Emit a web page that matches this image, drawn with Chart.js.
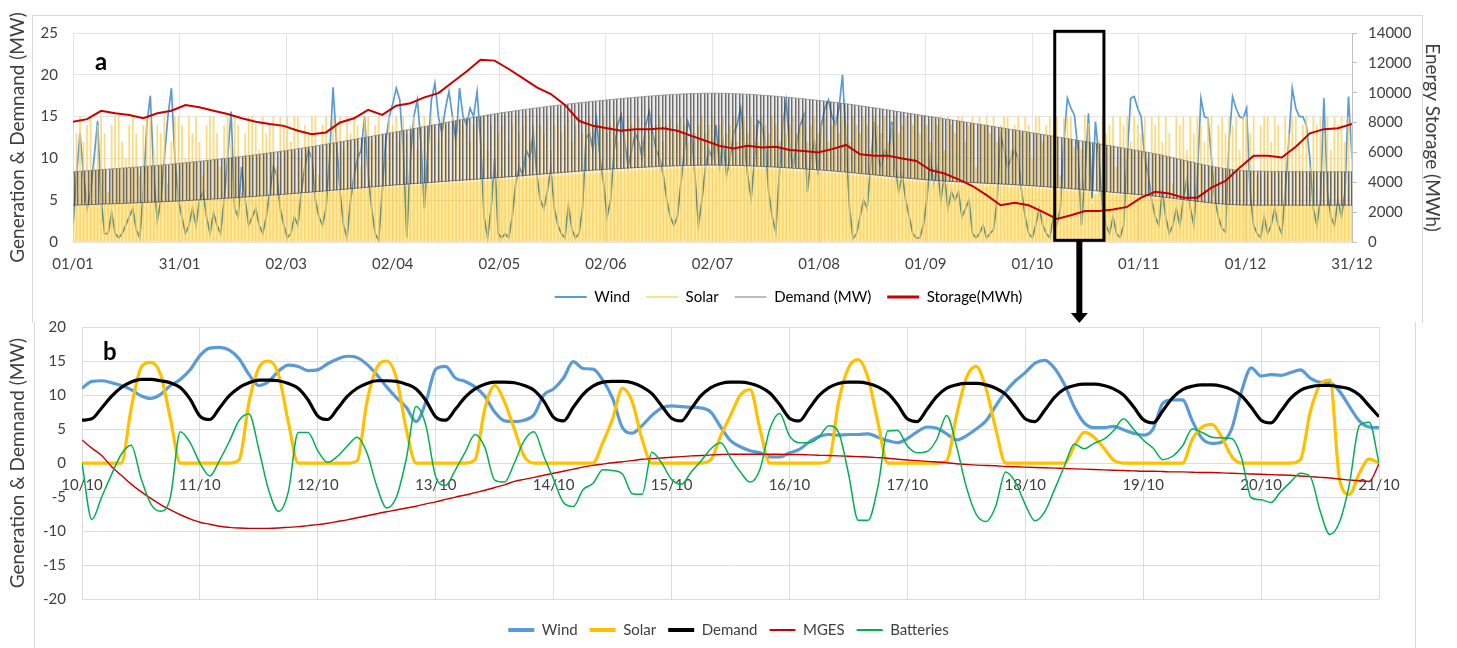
<!DOCTYPE html>
<html>
<head>
<meta charset="utf-8">
<script src="https://cdn.jsdelivr.net/npm/chart.js@4.4.1/dist/chart.umd.min.js"></script>
<style>
  html, body { margin: 0; padding: 0; background: #fff; overflow: hidden; }
  body { position: relative; width: 1457px; height: 648px; }
  .frame { position: absolute; box-sizing: border-box; border: 1px solid #d9d9d9; }
  #f1 { left: 32px; top: 15px; width: 1391px; height: 308px; border-bottom: none; }
  #f2 { left: 34px; top: 322px; width: 1382px; height: 340px; border-top: none; border-bottom: none; }
  canvas { position: absolute; left: 0; }
  #c1 { top: 0; width: 1577px; height: 330px; }
  #c2 { top: 318px; width: 1457px; height: 330px; }
</style>
</head>
<body>
<div class="frame" id="f1"></div>
<div class="frame" id="f2"></div>
<canvas id="c1" width="1577" height="330"></canvas>
<canvas id="c2" width="1457" height="330"></canvas>
<script>
// ---------- panel a : one year, daily values ----------
const yearTicks = ["01/01", "31/01", "02/03", "02/04", "02/05", "02/06", "02/07",
                   "01/08", "01/09", "01/10", "01/11", "01/12", "31/12"];

// wind, MW, one value per day (day 0 = 01/01)
const windYear = [
  2, 8, 13, 8, 4, 6, 10, 14.5, 5, 1,
  1, 3.5, 1, 0.5, 1, 2, 3, 4, 1.5, 0.5,
  6, 14, 17.5, 8, 2.5, 5, 10, 15, 18.4, 10,
  5, 3, 1, 2, 4, 2, 5, 6, 3, 1,
  3.5, 2, 1, 5, 10, 15.6, 4, 3, 9, 5,
  2, 3, 4, 2, 1, 3, 6, 9, 8, 4,
  2, 0.5, 1, 3, 2, 6, 9, 11, 10, 5,
  3, 2, 4, 10, 18.5, 12, 6, 2, 0.5, 5,
  8, 10, 11, 15, 8, 4, 1, 0.2, 6, 12,
  15, 16.5, 18.4, 17, 11, 0.5, 10, 15, 17, 12,
  4, 11, 17, 19, 15, 13, 16, 18, 15, 12,
  18.4, 15, 14, 16, 15, 18, 12, 3, 0.5, 4,
  10, 1, 0.5, 1, 0.5, 3, 7, 9, 8, 11,
  10, 13, 8, 5, 4, 6, 8.8, 4, 2, 1,
  0.5, 4.4, 1.5, 0.5, 1, 4, 12.4, 13, 11, 14.6,
  10, 7, 3, 5, 11, 14, 15.2, 12, 9, 11,
  13, 12, 10, 14, 15.6, 13, 11, 10, 8, 5,
  3, 2, 3, 7, 11, 14.4, 13, 8, 2, 5,
  9, 11, 10, 14, 9, 12, 8, 10, 13, 14,
  16, 12, 8, 5.2, 10, 14.5, 14, 12, 6, 3,
  1.2, 8, 14, 16.8, 11, 9, 12, 14, 15.2, 6,
  10, 12, 8, 14, 16, 17, 15, 14, 16, 20,
  12, 4, 0.4, 1, 3, 5, 4, 9, 14.4, 10,
  9, 11, 10, 14.4, 9, 6, 8, 5, 3, 1,
  0.5, 0.5, 2, 5, 10, 7, 9, 5, 8, 4,
  6, 5, 6, 3, 4, 5, 1, 0.5, 1, 2,
  0.5, 1, 1.5, 5, 12.8, 11, 9, 10, 11, 10,
  6, 3, 1, 0.5, 2, 4, 2, 1, 0.5, 3,
  2, 4, 12, 17.2, 16, 15.2, 11, 2, 8, 15.4,
  5.2, 14.4, 10, 4, 2, 1, 3, 1, 0.5, 2,
  10, 17.2, 17.4, 16, 15, 10, 8, 5, 3, 2,
  6, 3, 1, 2, 4, 2, 5, 7.6, 4, 2,
  8, 17.2, 15, 14.8, 10, 5, 3, 1.6, 1.2, 12,
  17.4, 16, 15, 14.8, 16, 6, 2, 1, 0.5, 3,
  1, 2, 4, 2, 1, 6, 12, 18.4, 16, 15,
  15, 14, 10, 4, 2, 5, 17.2, 6, 3, 2,
  5, 3, 6, 17.4, 10
];

// solar, MW, daily peak
const solarYear = [
  14.5, 13, 15, 12, 14, 15, 9, 14, 15, 13, 6, 14, 15, 15, 12, 10, 14, 15, 13, 8, 14, 15, 15, 11, 14, 13, 15, 7, 12, 15,
  15, 14, 10, 15, 13, 15, 12, 8, 14, 15, 15, 13, 9, 14, 15, 12, 15, 14, 6, 13, 15, 15, 14, 11, 15, 13, 14, 15, 9, 15,
  14, 15, 12, 15, 15, 10, 14, 13, 15, 15, 8, 14, 15, 12, 15, 14, 15, 11, 15, 13, 15, 14, 9, 15, 15, 12, 14, 15, 13, 10,
  15, 14, 15, 12, 15, 13, 14, 15, 11, 14, 15, 13, 15, 14, 12, 15, 14, 10, 15, 13, 15, 14, 15, 12, 14, 15, 13, 15, 11, 14,
  15, 13, 14, 15, 12, 14, 15, 13, 14, 15, 12, 14, 15, 14, 13, 15, 11, 14, 15, 13, 14, 15, 12, 14, 15, 13, 14, 15, 14, 12,
  14, 15, 13, 14, 15, 12, 14, 13, 15, 14, 13, 15, 12, 14, 15, 13, 14, 15, 12, 14, 15, 13, 14, 15, 14, 12, 15, 13, 14, 15,
  13, 14, 15, 12, 14, 15, 13, 14, 15, 12, 14, 15, 13, 15, 14, 12, 15, 14, 13, 15, 14, 12, 15, 13, 14, 15, 13, 14, 15, 12,
  14, 15, 13, 14, 15, 12, 14, 15, 13, 15, 14, 12, 15, 14, 13, 15, 14, 11, 15, 14, 13, 15, 12, 14, 15, 13, 14, 15, 10, 14,
  15, 13, 15, 14, 12, 15, 14, 15, 11, 15, 14, 13, 15, 15, 12, 14, 15, 9, 15, 14, 15, 13, 15, 12, 14, 15, 15, 11, 14, 15,
  13, 15, 14, 10, 15, 15, 12, 14, 15, 13, 15, 8, 14.8, 15, 15, 11.4, 11.1, 11.1, 15.2, 14.2, 4.6, 5.7, 12.2, 15, 13, 14, 15, 9, 15, 14,
  15, 12, 15, 14, 13, 15, 10, 15, 14, 15, 12, 15, 13, 7, 15, 14, 15, 11, 15, 13, 15, 14, 12, 15, 15, 9, 14, 15, 13, 15,
  14, 15, 11, 15, 15, 13, 15, 8, 14, 15, 15, 12, 15, 14, 10, 15, 13, 15, 15, 12, 14, 15, 9, 15, 14, 15, 13, 15, 11, 15, 14, 15, 12, 15, 14
];

// days at which the seasonal envelopes were read
const envDays   = [0, 30, 60, 91, 121, 152, 182, 213, 244, 274, 305, 335, 364];
const demandMax = [8.4, 9.4, 10.9, 13.1, 15.4, 17.0, 17.8, 16.9, 15.0, 13.0, 10.8, 8.5, 8.4];
const demandMin = [4.4, 4.9, 5.7, 6.8, 7.7, 8.7, 9.2, 8.6, 7.4, 6.7, 5.6, 4.4, 4.4];
const solarBase = [4.3, 4.9, 5.6, 6.6, 7.4, 8.3, 8.9, 8.3, 7.1, 6.4, 5.4, 4.3, 4.3];

// storage, MWh, every 4 days
const storageStep = 4;
const storageYear = [
  8060, 8230, 8790, 8620, 8510, 8290, 8620, 8790, 9180, 9020,
  8790, 8570, 8290, 8060, 7900, 7780, 7450, 7220, 7340, 8010,
  8290, 8850, 8510, 9130, 9300, 9690, 9970, 10700, 11420, 12210,
  12150, 11590, 10980, 10360, 9910, 9180, 8120, 7780, 7620, 7450,
  7560, 7560, 7620, 7450, 7110, 6780, 6440, 6270, 6440, 6330,
  6380, 6160, 6100, 5990, 6220, 6500, 5880, 5770, 5770, 5600,
  5430, 4820, 4590, 4200, 3750, 3140, 2460, 2630, 2460, 2020,
  1540, 1790, 2070, 2070, 2180, 2350, 2970, 3360, 3250, 2970,
  2970, 3640, 4090, 4980, 5770, 5770, 5660, 6380, 7280, 7560,
  7620, 7900
];
const zoomRange = [279.4, 293.4];

// ---------- panel b : 10/10 - 21/10, every 2 hours ----------
const dayTicks = ["10/10", "11/10", "12/10", "13/10", "14/10", "15/10", "16/10",
                  "17/10", "18/10", "19/10", "20/10", "21/10"];
const hourStep = 2;
const windOct = [
  11.0, 12.0, 12.1, 11.8, 11.4, 10.8, 9.9, 9.5, 10.1, 11.4, 12.3, 13.7,
  15.8, 16.9, 17.0, 16.6, 15.3, 13.0, 11.4, 12.0, 13.5, 14.4, 14.2, 13.6,
  13.7, 14.6, 15.3, 15.7, 15.5, 14.5, 13.0, 11.2, 9.6, 8.2, 6.1, 9.0,
  13.8, 14.2, 12.5, 12.0, 11.2, 9.8, 7.5, 6.2, 6.1, 6.3, 7.1, 10.0,
  10.9, 12.5, 14.9, 13.9, 13.8, 12.2, 9.5, 5.2, 4.4, 5.5, 7.0, 8.1,
  8.4, 8.3, 8.2, 8.1, 7.5, 5.3, 3.3, 2.4, 1.8, 1.5, 0.9, 0.9,
  1.5, 2.0, 3.1, 3.9, 4.2, 4.1, 4.2, 4.2, 4.3, 3.8, 3.3, 3.0,
  3.6, 4.6, 5.3, 5.1, 4.3, 3.4, 4.0, 5.0, 6.2, 8.4, 10.5, 12.1,
  13.3, 14.7, 15.1, 13.9, 11.5, 8.2, 5.9, 5.2, 5.2, 5.4, 4.9, 4.4,
  4.1, 5.0, 8.8, 9.3, 9.3, 6.2, 3.6, 2.9, 3.1, 5.0, 10.5, 14.0,
  12.8, 13.0, 12.9, 13.3, 13.7, 12.5, 11.9, 11.8, 10.5, 8.3, 6.2, 5.3,
  5.2
];
const solarOct = [
  0, 0, 0, 0, 0, 8, 14, 14.8, 13, 6.5, 0, 0,
  0, 0, 0, 0, 0.5, 9, 14, 15, 13, 6, 0, 0,
  0, 0, 0, 0, 0.3, 9, 14, 15, 12.5, 5, 0, 0,
  0, 0, 0, 0, 0.5, 8, 11.4, 9, 5, 1, 0, 0,
  0, 0, 0, 0, 0, 3, 6.5, 11, 9, 3.5, 0, 0,
  0, 0, 0, 0, 0.5, 4, 7, 10, 10.8, 5, 0, 0,
  0, 0, 0, 0, 0.3, 9, 14, 15.2, 12.5, 6, 0, 0,
  0, 0, 0, 0, 0.3, 7, 12.5, 14.2, 11, 5, 0, 0,
  0, 0, 0, 0, 0, 2.5, 4.5, 3.8, 2.2, 0.4, 0, 0,
  0, 0, 0, 0, 0, 3.5, 5.3, 5.7, 3.8, 1, 0, 0,
  0, 0, 0, 0, 0.5, 7.5, 11.5, 12.2, -2.5, -4.6, -1.5, 0.6,
  0
];
const demandOct = [
  6.3, 6.5, 8.1, 9.8, 11.1, 11.9, 12.3, 12.3, 12.1, 11.8, 11.1, 9.4,
  6.9, 6.4, 8.1, 9.9, 11.1, 11.8, 12.2, 12.2, 12.1, 11.7, 11.0, 9.3,
  6.9, 6.4, 8.0, 9.8, 11.0, 11.7, 12.1, 12.1, 12.0, 11.6, 10.9, 9.2,
  6.8, 6.3, 7.9, 9.7, 10.9, 11.6, 11.9, 11.9, 11.8, 11.4, 10.7, 9.1,
  6.7, 6.2, 8.2, 10.1, 11.3, 11.9, 12.0, 12.0, 11.8, 11.2, 10.2, 8.4,
  6.6, 6.2, 8.0, 9.9, 11.1, 11.7, 11.9, 11.9, 11.7, 11.2, 10.3, 8.6,
  6.6, 6.2, 8.0, 9.9, 11.1, 11.7, 11.9, 11.9, 11.7, 11.2, 10.3, 8.6,
  6.5, 6.1, 7.9, 9.8, 11.0, 11.5, 11.7, 11.7, 11.5, 11.0, 10.1, 8.4,
  6.5, 6.1, 7.8, 9.7, 10.9, 11.4, 11.6, 11.6, 11.4, 10.9, 10.0, 8.3,
  6.4, 5.9, 7.7, 9.6, 10.8, 11.3, 11.5, 11.5, 11.3, 10.8, 9.9, 8.2,
  6.3, 5.9, 7.6, 9.5, 10.7, 11.2, 11.4, 11.4, 11.2, 10.9, 10.0, 8.4,
  6.8
];
const mgesOct = [
  3.4, 2.2, 1.1, -0.5, -1.8, -3.1, -4.2, -5.2, -6.1, -6.9, -7.6, -8.2,
  -8.7, -9.0, -9.3, -9.45, -9.55, -9.6, -9.6, -9.6, -9.55, -9.45, -9.35, -9.2,
  -9.05, -8.85, -8.6, -8.35, -8.05, -7.75, -7.45, -7.15, -6.9, -6.6, -6.35, -6.0,
  -5.7, -5.35, -5.0, -4.7, -4.35, -4.0, -3.6, -3.2, -2.7, -2.4, -2.1, -1.8,
  -1.5, -1.2, -0.9, -0.6, -0.35, -0.15, 0.05, 0.2, 0.35, 0.55, 0.65, 0.75,
  0.85, 0.95, 1.05, 1.1, 1.2, 1.25, 1.3, 1.3, 1.3, 1.3, 1.3, 1.3,
  1.25, 1.25, 1.2, 1.15, 1.1, 1.05, 1.0, 0.95, 0.9, 0.8, 0.7, 0.55,
  0.45, 0.35, 0.25, 0.15, 0.05, -0.1, -0.2, -0.3, -0.35, -0.4, -0.5, -0.55,
  -0.6, -0.65, -0.7, -0.75, -0.8, -0.85, -0.9, -0.95, -1.0, -1.05, -1.1, -1.15,
  -1.2, -1.2, -1.25, -1.3, -1.3, -1.35, -1.4, -1.4, -1.45, -1.5, -1.55, -1.6,
  -1.65, -1.7, -1.75, -1.8, -1.9, -2.0, -2.1, -2.2, -2.35, -2.5, -2.6, -2.7,
  -0.1
];
const batteriesOct = [
  0, -8.3, -5.0, -1.7, 1.3, 2.6, -2.2, -6.0, -7.1, -5.0, 4.6, 3.0,
  0, -1.9, 0.4, 3.2, 6.3, 7.2, 2.0, -4.0, -7.1, -4.2, 4.5, 4.5,
  1.8, 0.1, 1.0, 2.5, 3.8, 1.5, -3.4, -6.6, -5.0, 0.6, 8.3, 5.5,
  -2.0, -3.3, -1.0, 1.6, 4.2, 2.3, -2.5, -2.8, 0, 3.3, 4.6, 1.0,
  -2.4, -5.8, -6.4, -3.9, -3.0, -1.0, -1.1, -1.6, -4.5, -4.6, 1.6, 0.0,
  -2.4, -3.1, -1.3, 0.3, 2.1, 3.0, 0.8, -1.3, -2.8, -0.9, 5.0, 7.3,
  4.0, 3.0, 3.0, 3.8, 5.5, 4.5, -1.5, -8.4, -8.4, -3.5, 4.7, 4.8,
  2.5, 1.5, 1.7, 3.5, 7.0, 2.5, -3.5, -7.5, -8.6, -6.3, -1.3, -2.8,
  -6.1, -8.5, -7.1, -3.8, -0.4, 2.8, 2.1, 2.9, 3.5, 4.8, 6.5, 5.0,
  3.4, 2.2, 0.5, 1.0, 2.5, 5.0, 4.5, 3.8, 3.7, 3.6, 0.8, -5.1,
  -5.4, -5.8, -4.2, -2.8, -1.5, -2.0, -7.0, -10.5, -8.6, -3.0, 5.5, 6.0,
  0
];

// ---------- shared settings ----------
Chart.defaults.font.family = 'Lato, "Open Sans", sans-serif';
Chart.defaults.font.size = 15;
Chart.defaults.color = '#404040';
Chart.defaults.animation = false;
Chart.defaults.events = [];
Chart.defaults.elements.point.radius = 0;
Chart.defaults.plugins.tooltip.enabled = false;

function stripes() {
  // hatch that stands for the daily up/down of the demand curve
  const c = document.createElement('canvas');
  c.width = 7; c.height = 4;
  const g = c.getContext('2d');
  const alpha = [0.75, 0.4, 0.1, 0.1, 0.75, 0.4, 0.1];
  alpha.forEach((a, i) => {
    g.fillStyle = 'rgba(60,60,60,' + a + ')';
    g.fillRect(i, 0, 1, 4);
  });
  return g.createPattern(c, 'repeat');
}

const pts = (arr, step) => arr.map((v, i) => ({ x: i * step, y: v }));
const atDays = (days, arr) => days.map((d, i) => ({ x: d, y: arr[i] }));

function legendItems(chart, keep) {
  return chart.data.datasets.map((d, i) => ({
    text: d.label, strokeStyle: d.legendColor || d.borderColor, fillStyle: d.legendColor || d.borderColor,
    lineWidth: d.legendWidth, pointStyle: 'line', hidden: false, datasetIndex: i
  })).filter(it => keep.includes(it.text));
}

// solar drawn with multiply so the wind underneath turns grey-green
const blendPlugin = {
  id: 'blend',
  afterDatasetDraw(chart, args) {
    const ds = chart.data.datasets[args.index];
    if (ds.multiplyAfter) { chart.ctx.save(); chart.ctx.globalCompositeOperation = 'multiply'; }
    if (ds.endBlend) chart.ctx.restore();
  }
};

const zoomBox = {
  id: 'zoomBox',
  afterDraw(chart) {
    const { ctx, scales: { x, y } } = chart;
    const l = x.getPixelForValue(zoomRange[0]);
    const r = x.getPixelForValue(zoomRange[1]);
    const t = y.getPixelForValue(25.2);
    const b = y.getPixelForValue(0.2);
    const cx = (l + r) / 2;
    ctx.save();
    ctx.strokeStyle = '#000';
    ctx.lineWidth = 3;
    ctx.strokeRect(l, t, r - l, b - t);
    ctx.fillStyle = '#000';
    ctx.fillRect(cx - 3, b, 6, 315 - b);
    ctx.beginPath();
    ctx.moveTo(cx - 8.5, 313);
    ctx.lineTo(cx + 8.5, 313);
    ctx.lineTo(cx, 323);
    ctx.closePath();
    ctx.fill();
    ctx.font = 'bold 24px Lato';
    ctx.fillText('a', 95, 62);
    ctx.restore();
  }
};

const labelB = {
  id: 'labelB',
  afterDraw(chart) {
    const ctx = chart.ctx;
    ctx.save();
    ctx.font = 'bold 24px Lato';
    ctx.fillStyle = '#000';
    ctx.fillText('b', 103, 34);
    ctx.restore();
  }
};

// ---------- chart a ----------
new Chart(document.getElementById('c1'), {
  type: 'line',
  data: {
    datasets: [
      { label: 'Wind', data: pts(windYear, 1), borderColor: '#5B9BD5', borderWidth: 1.7,
        legendWidth: 2, order: 5, multiplyAfter: true },
      { label: 'Solar', type: 'bar', data: pts(solarYear, 1), backgroundColor: 'rgba(255,208,88,0.78)',
        borderWidth: 0, barPercentage: 0.5, categoryPercentage: 1, legendColor: '#FFE08A',
        legendWidth: 2, order: 3 },
      { label: 'solarBase', data: atDays(envDays, solarBase), borderWidth: 0, fill: 'origin',
        backgroundColor: 'rgb(255,236,168)', cubicInterpolationMode: 'monotone', order: 4, endBlend: true },
      { label: 'Demand (MW)', data: atDays(envDays, demandMax), borderColor: 'rgba(130,130,130,0.7)',
        borderWidth: 1, fill: '+1', backgroundColor: stripes(), cubicInterpolationMode: 'monotone',
        legendColor: '#A6A6A6', legendWidth: 1.5, order: 1 },
      { label: 'demandMin', data: atDays(envDays, demandMin), borderColor: 'rgba(80,80,80,0.7)',
        borderWidth: 1, cubicInterpolationMode: 'monotone', order: 2 },
      { label: 'Storage(MWh)', data: pts(storageYear, storageStep), yAxisID: 'y2', borderColor: '#C80000',
        borderWidth: 2, legendWidth: 3, order: 0 }
    ]
  },
  options: {
    responsive: false,
    layout: { padding: { top: 33, left: 0, right: 0, bottom: 15.5 } },
    scales: {
      x: {
        type: 'linear', min: 0, max: 364, offset: false,
        afterBuildTicks: s => { s.ticks = yearTicks.map((t, i) => ({ value: i * 364 / (yearTicks.length - 1) })); },
        afterFit: s => { s.height = 31.5; },
        ticks: { autoSkip: false, maxRotation: 0, padding: 13, callback: (v, i) => yearTicks[i] },
        grid: { color: '#e4e4e4', drawTicks: false, offset: false },
        border: { display: false }
      },
      y: {
        position: 'left', min: 0, max: 25,
        ticks: { stepSize: 5, padding: 15 },
        grid: { color: '#e4e4e4', drawTicks: false },
        border: { display: false },
        title: { display: true, text: 'Generation & Demnand (MW)', font: { size: 19 }, padding: { top: 6.6, bottom: 0 } },
        afterFit: s => { s.width = 73; s.paddingTop = 0; s.paddingBottom = 0; }
      },
      y2: {
        position: 'right', min: 0, max: 14000,
        ticks: { stepSize: 2000, padding: 11, callback: v => String(v) },
        grid: { drawOnChartArea: false, color: '#bfbfbf', tickLength: 5 },
        border: { display: true, color: '#bfbfbf' },
        title: { display: true, text: 'Energy Storage (MWh)', font: { size: 19 }, padding: { top: 133.6, bottom: 0 } },
        afterFit: s => { s.width = 225; s.paddingTop = 0; s.paddingBottom = 0; }
      }
    },
    plugins: {
      legend: {
        position: 'bottom',
        labels: {
          usePointStyle: true, pointStyleWidth: 32, padding: 16, color: '#404040',
          generateLabels: c => legendItems(c, ['Wind', 'Solar', 'Demand (MW)', 'Storage(MWh)'])
        }
      }
    }
  },
  plugins: [blendPlugin, zoomBox]
});

// ---------- chart b ----------
new Chart(document.getElementById('c2'), {
  type: 'line',
  data: {
    datasets: [
      { label: 'Wind', data: pts(windOct, hourStep), borderColor: '#5B9BD5', borderWidth: 3.2, legendWidth: 4, order: 5 },
      { label: 'Solar', data: pts(solarOct, hourStep), borderColor: '#FFC000', borderWidth: 3.2, legendWidth: 4, order: 4 },
      { label: 'Demand', data: pts(demandOct, hourStep), borderColor: '#000000', borderWidth: 3.2, legendWidth: 4, order: 3 },
      { label: 'MGES', data: pts(mgesOct, hourStep), borderColor: '#C80000', borderWidth: 1.4, legendWidth: 2, order: 2 },
      { label: 'Batteries', data: pts(batteriesOct, hourStep), borderColor: '#00B050', borderWidth: 1.5, legendWidth: 2, order: 1 }
    ]
  },
  options: {
    responsive: false,
    elements: { line: { cubicInterpolationMode: 'monotone' } },
    layout: { padding: { top: 9, left: 0, right: 0, bottom: 0.5 } },
    scales: {
      x: {
        type: 'linear', min: 0, max: 264, position: { y: 0 },
        ticks: { stepSize: 24, autoSkip: false, maxRotation: 0, padding: 13, callback: (v, i) => dayTicks[i] },
        grid: { color: '#dcdcdc', drawTicks: false },
        border: { display: false },
        afterFit: s => { s.height = 0; }
      },
      y: {
        min: -20, max: 20,
        ticks: { stepSize: 5, padding: 16 },
        grid: { color: '#dcdcdc', drawTicks: false },
        border: { display: false },
        title: { display: true, text: 'Generation & Demnand (MW)', font: { size: 19 }, padding: { top: 6.6, bottom: 0 } },
        afterFit: s => { s.width = 82; s.paddingTop = 0; s.paddingBottom = 0; }
      },
      // empty right margin so the legend centres on the page like the original
      yr: {
        position: 'right', min: -20, max: 20,
        ticks: { display: false }, grid: { display: false }, border: { display: false },
        afterFit: s => { s.width = 78; s.paddingTop = 0; s.paddingBottom = 0; }
      }
    },
    plugins: {
      legend: {
        position: 'bottom',
        title: { display: true, text: '', font: { size: 9.5 }, padding: { top: 0, bottom: 0 } },
        labels: {
          usePointStyle: true, pointStyleWidth: 26, padding: 12, color: '#404040',
          generateLabels: c => legendItems(c, ['Wind', 'Solar', 'Demand', 'MGES', 'Batteries'])
        }
      }
    }
  },
  plugins: [labelB]
});
</script>
</body>
</html>
